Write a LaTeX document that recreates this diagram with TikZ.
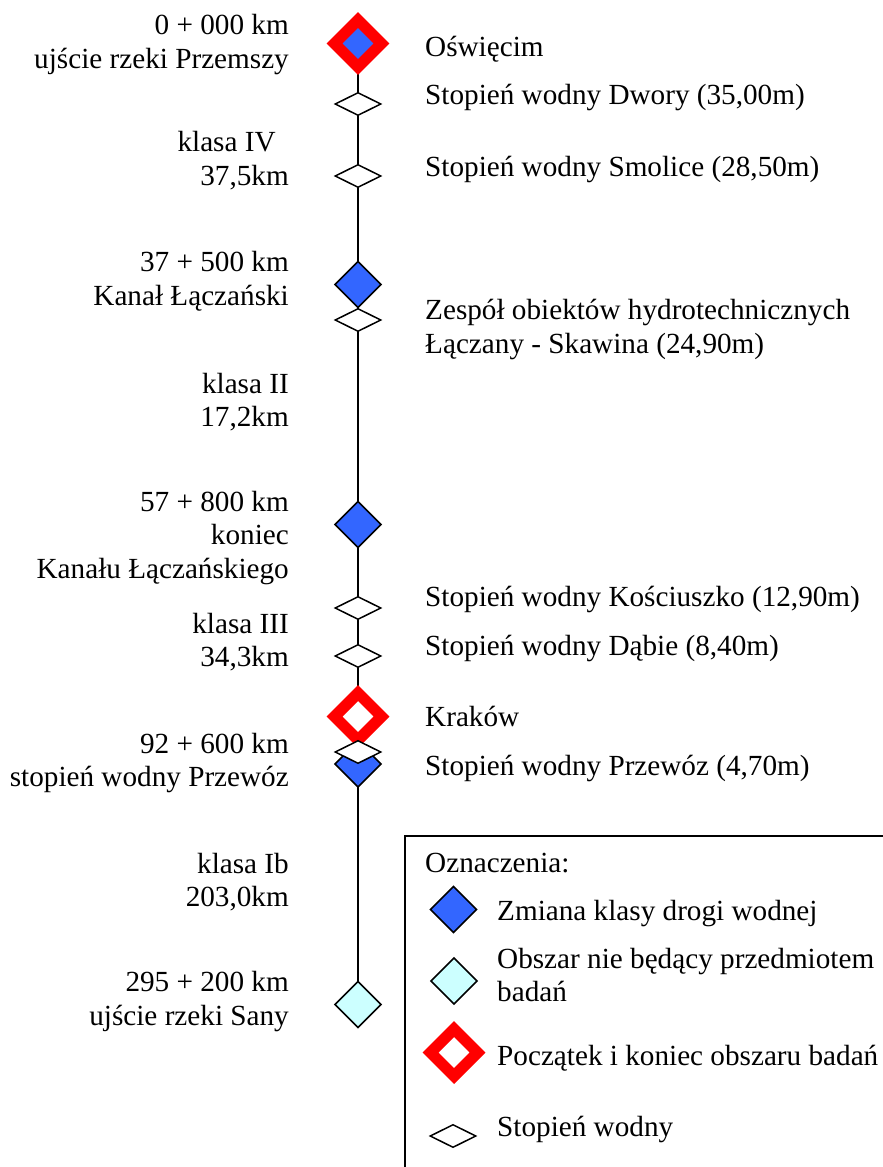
\documentclass[tikz,border=0pt]{standalone}
\usepackage{fontspec}
\setmainfont{Liberation Serif}
\usetikzlibrary{shapes.geometric,backgrounds}

\definecolor{klasa}{RGB}{51,102,255}
\definecolor{cyjan}{RGB}{204,255,255}

\begin{document}
\begin{tikzpicture}[
  x=1pt, y=-1pt,
  font=\fontsize{29.2}{33.4}\selectfont,
  lewy/.style={anchor=base east, align=right, inner sep=0pt},
  prawy/.style={anchor=base west, align=left, inner sep=0pt},
  stopien/.style={diamond, draw, line width=1.5pt, fill=white, inner sep=0pt, outer sep=0pt, minimum width=45.5pt, minimum height=22.5pt},
  zmiana/.style={diamond, draw, line width=1.5pt, fill=klasa, inner sep=0pt, outer sep=0pt, minimum size=46pt},
  obszar/.style={zmiana, fill=cyjan},
  granica/.style={diamond, draw=red, line width=11.3pt, fill=white, inner sep=0pt, outer sep=0pt, minimum size=47pt}
]

\useasboundingbox (0,0) rectangle (883,1167);
\clip (0,0) rectangle (883,1167);

\node[granica, fill=klasa] (oswiecim) at (358,43.5) {};
\node[stopien] (dwory) at (358,104) {};
\node[stopien] (smolice) at (358,176) {};
\node[zmiana] (kanal) at (358,284.5) {};
\node[stopien] (laczany) at (358,320) {};
\node[zmiana] (koniec) at (358,524.5) {};
\node[stopien] (kosciuszko) at (358,608) {};
\node[stopien] (dabie) at (358,656) {};
\node[granica] (krakow) at (358,716.5) {};
\node[zmiana] (przewoz) at (358,764) {};
\node[stopien] (przewozst) at (358,752) {};
\node[obszar] (sany) at (358,1004.5) {};

\begin{scope}[on background layer]
  \draw[line width=1.5pt] (oswiecim) -- (sany);
\end{scope}

\node[lewy] (km0) at (289,68.3) {0 + 000 km\\ujście rzeki Przemszy};
\node[lewy] (kl4) at (289,185) {klasa IV\hspace*{0.45em}\\37,5km};
\node[lewy] (km37) at (289,305) {37 + 500 km\\Kanał Łączański};
\node[lewy] (kl2) at (289,426.7) {klasa II\\17,2km};
\node[lewy] (km57) at (289,578.3) {57 + 800 km\\koniec\\Kanału Łączańskiego};
\node[lewy] (kl3) at (289,666.7) {klasa III\\34,3km};
\node[lewy] (km92) at (289,786.7) {92 + 600 km\\stopień wodny Przewóz};
\node[lewy] (kl1b) at (289,906.7) {klasa Ib\\203,0km};
\node[lewy] (km295) at (289,1025) {295 + 200 km\\ujście rzeki Sany};

\node[prawy] (t-oswiecim) at (425,56.7) {Oświęcim};
\node[prawy] (t-dwory) at (425,104) {Stopień wodny Dwory (35,00m)};
\node[prawy] (t-smolice) at (425,176) {Stopień wodny Smolice (28,50m)};
\node[prawy] (t-laczany) at (425,353.3) {Zespół obiektów hydrotechnicznych\\Łączany - Skawina (24,90m)};
\node[prawy] (t-kosciuszko) at (425,606.7) {Stopień wodny Kościuszko (12,90m)};
\node[prawy] (t-dabie) at (425,655) {Stopień wodny Dąbie (8,40m)};
\node[prawy] (t-krakow) at (425,726.7) {Kraków};
\node[prawy] (t-przewoz) at (425,775) {Stopień wodny Przewóz (4,70m)};

\draw[line width=1.5pt] (405,836) rectangle (900,1180);
\node[prawy] (oznaczenia) at (425,872.7) {Oznaczenia:};
\node[zmiana] (z-zmiana) at (453.5,909.5) {};
\node[prawy] (o-zmiana) at (497,920) {Zmiana klasy drogi wodnej};
\node[obszar] (z-obszar) at (454,981) {};
\node[prawy] (o-obszar) at (497,1001.7) {Obszar nie będący przedmiotem\\badań};
\node[granica] (z-granica) at (454,1052.5) {};
\node[prawy] (o-granica) at (497,1065) {Początek i koniec obszaru badań};
\node[stopien] (z-stopien) at (453,1136) {};
\node[prawy] (o-stopien) at (497,1136.7) {Stopień wodny};

\end{tikzpicture}
\end{document}
